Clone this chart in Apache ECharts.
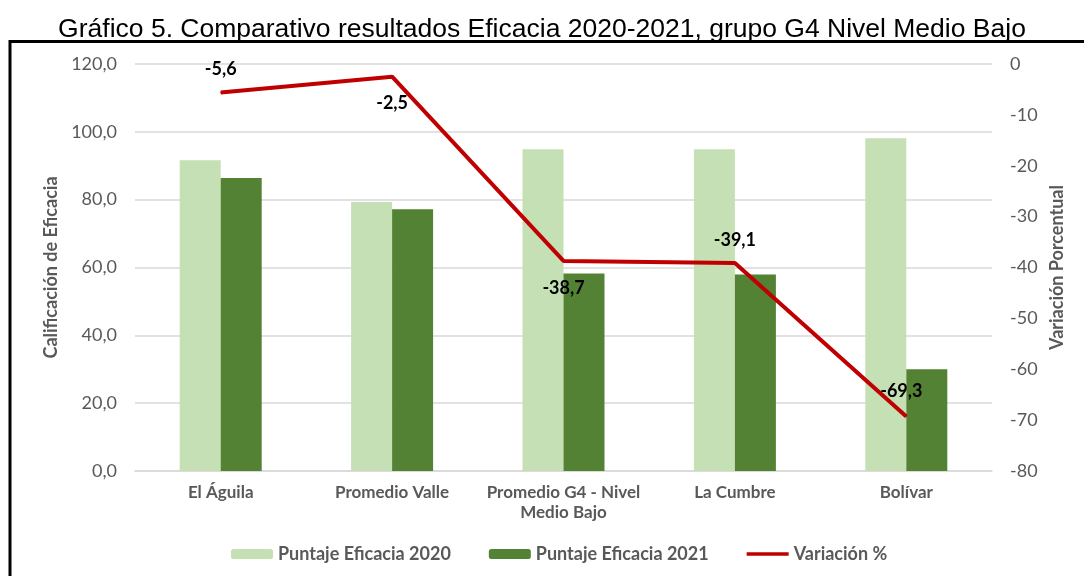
<!DOCTYPE html>
<html>
<head>
<meta charset="utf-8">
<script src="https://cdn.jsdelivr.net/npm/echarts@6/dist/echarts.min.js"></script>
<style>
  html, body { margin: 0; padding: 0; background: #fff; }
  #chart { width: 1084px; height: 576px; }
</style>
</head>
<body>
<div id="chart"></div>
<script>
// datos
var categorias = ['El Águila', 'Promedio Valle', 'Promedio G4 - Nivel\nMedio Bajo', 'La Cumbre', 'Bolívar'];
var eficacia_2020 = [91.6, 79.3, 94.9, 94.9, 98.1];
var eficacia_2021 = [86.4, 77.2, 58.2, 57.9, 30.0];
var variacion = [-5.6, -2.5, -38.7, -39.1, -69.3];
// posicion de cada etiqueta de la linea (arriba / abajo)
var pos_etiqueta = ['top', 'bottom', 'bottom', 'top', 'top'];
var dist_etiqueta = [14, 17, 18, 13, 16];
var desp_etiqueta = [0, 0, 0, 0, -5];

var fuente = 'Lato';
var gris = '#595959';

var chart = echarts.init(document.getElementById('chart'));

function coma(v, dec) {
    return v.toFixed(dec).replace('.', ',');
}

var option = {
    animation: false,
    title: {
        text: 'Gráfico 5. Comparativo resultados Eficacia 2020-2021, grupo G4 Nivel Medio Bajo',
        left: 'center',
        top: 11,
        textStyle: {
            fontFamily: 'Liberation Sans',
            fontWeight: 'normal',
            fontSize: 26.5,
            color: '#000'
        }
    },
    // marco negro del grafico
    graphic: [
        {
            type: 'rect',
            shape: { x: 10, y: 41.5, width: 1200, height: 700 },
            style: { fill: null, stroke: '#000', lineWidth: 3 },
            silent: true
        }
    ],
    grid: {
        left: 135,
        right: 92,
        top: 64,
        bottom: 105
    },
    legend: {
        top: 540,
        left: 226,
        itemGap: 38,
        itemWidth: 42,
        itemHeight: 10,
        textStyle: {
            fontFamily: fuente,
            fontWeight: 'bold',
            fontSize: 18,
            color: gris
        },
        data: [
            'Puntaje Eficacia 2020',
            'Puntaje Eficacia 2021',
            { name: 'Variación %', icon: 'path://M0,0H45V4H0Z' }
        ]
    },
    xAxis: {
        type: 'category',
        data: categorias,
        axisLine: { lineStyle: { color: '#d9d9d9', width: 1.5 } },
        axisTick: { show: false },
        axisLabel: {
            fontFamily: fuente,
            fontWeight: 'bold',
            fontSize: 17,
            lineHeight: 20,
            color: gris,
            margin: 12,
            interval: 0
        }
    },
    yAxis: [
        {
            type: 'value',
            min: 0,
            max: 120,
            interval: 20,
            name: 'Calificación de Eficacia',
            nameLocation: 'middle',
            nameRotate: 90,
            nameGap: 72,
            nameTextStyle: {
                fontFamily: fuente,
                fontWeight: 'bold',
                fontSize: 18,
                color: gris
            },
            axisLine: { show: false },
            axisTick: { show: false },
            splitLine: { lineStyle: { color: '#d9d9d9', width: 1.5 } },
            axisLabel: {
                fontFamily: fuente,
                fontSize: 18,
                color: gris,
                margin: 18,
                formatter: function (v) { return coma(v, 1); }
            }
        },
        {
            type: 'value',
            min: -80,
            max: 0,
            interval: 10,
            name: 'Variación Porcentual',
            nameLocation: 'middle',
            nameRotate: 90,
            nameGap: 56,
            nameTextStyle: {
                fontFamily: fuente,
                fontWeight: 'bold',
                fontSize: 18,
                color: gris
            },
            axisLine: { show: false },
            axisTick: { show: false },
            splitLine: { show: false },
            axisLabel: {
                fontFamily: fuente,
                fontSize: 18,
                color: gris,
                margin: 18
            }
        }
    ],
    series: [
        {
            name: 'Puntaje Eficacia 2020',
            type: 'bar',
            barWidth: 41,
            barGap: '0%',
            itemStyle: { color: '#c5e0b4' },
            data: eficacia_2020
        },
        {
            name: 'Puntaje Eficacia 2021',
            type: 'bar',
            barWidth: 41,
            barGap: '0%',
            itemStyle: { color: '#548235' },
            data: eficacia_2021
        },
        {
            name: 'Variación %',
            type: 'line',
            yAxisIndex: 1,
            symbol: 'circle',
            symbolSize: 1,
            showSymbol: true,
            lineStyle: { color: '#c00000', width: 4 },
            itemStyle: { color: '#c00000' },
            z: 5,
            data: variacion.map(function (v, i) {
                return {
                    value: v,
                    label: {
                        show: true,
                        position: pos_etiqueta[i],
                        distance: dist_etiqueta[i],
                        offset: [desp_etiqueta[i], 0],
                        fontFamily: fuente,
                        fontWeight: 'bold',
                        fontSize: 18,
                        color: '#000',
                        formatter: function (p) { return coma(p.value, 1); }
                    }
                };
            })
        }
    ]
};

chart.setOption(option);
</script>
</body>
</html>
